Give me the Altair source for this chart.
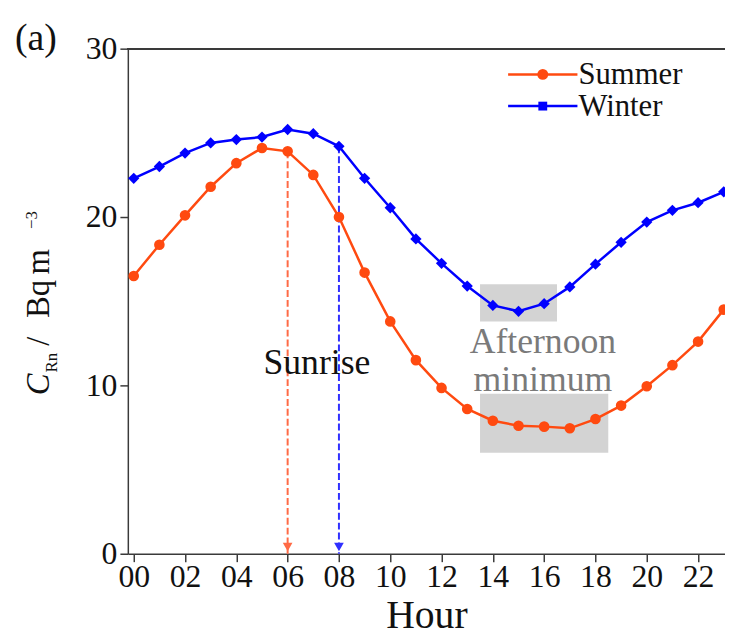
import altair as alt
import pandas as pd

hours = list(range(24))
summer = [16.5, 18.35, 20.1, 21.8, 23.2, 24.1, 23.9, 22.5, 20.0, 16.7, 13.8, 11.5,
          9.85, 8.6, 7.9, 7.6, 7.55, 7.45, 8.0, 8.8, 9.95, 11.2, 12.6, 14.5]
winter = [22.3, 23.0, 23.8, 24.4, 24.6, 24.75, 25.2, 24.95, 24.2, 22.3, 20.55, 18.7,
          17.25, 15.9, 14.75, 14.4, 14.85, 15.85, 17.2, 18.5, 19.7, 20.4, 20.85, 21.5]
tick_hours = [0, 2, 4, 6, 8, 10, 12, 14, 16, 18, 20, 22]
y_ticks = [0, 10, 20, 30]

# shaded "afternoon minimum" boxes
box_x = [13.5, 13.5]
box_x2 = [16.5, 18.5]
box_y = [13.8, 6.0]
box_y2 = [16.0, 9.5]

# sunrise markers
sunrise_hour = [6, 8]
sunrise_top = [23.9, 24.2]
sunrise_season = ["Summer", "Winter"]

# annotation texts (label, hour, value)
notes = [("Afternoon", 15.95, 12.6), ("minimum", 15.95, 10.3), ("Sunrise", 7.14, 11.35)]

FONT = "'Liberation Serif', 'DejaVu Serif', serif"
RED = "#ff4a10"
BLUE = "#0000ff"
AX = "#3a3a3a"
W, H = 603, 510

def X(field="hour"):
    return alt.X(f"{field}:Q",
                 scale=alt.Scale(domain=[-0.23, 23.05], nice=False, zero=False),
                 axis=alt.Axis(values=tick_hours,
                               labelExpr="datum.value < 10 ? '0' + datum.value : '' + datum.value",
                               title="Hour", grid=False, tickSize=8, tickWidth=1.5,
                               tickColor=AX, domainColor=AX, domainWidth=1.5,
                               labelFont=FONT, labelFontSize=32, labelColor="#111",
                               labelPadding=0, titleFont=FONT, titleFontSize=40,
                               titleFontWeight="normal", titleColor="#111",
                               titlePadding=3, labelFlush=False))

def Y(field="value"):
    return alt.Y(f"{field}:Q",
                 scale=alt.Scale(domain=[0, 30], nice=False),
                 axis=alt.Axis(values=y_ticks, title=None, grid=False, tickSize=8,
                               tickWidth=1.5, tickColor=AX, domainColor=AX,
                               domainWidth=1.5, labelFont=FONT, labelFontSize=32,
                               labelColor="#111", labelPadding=3))

s_df = pd.DataFrame({"hour": hours, "value": summer})
w_df = pd.DataFrame({"hour": hours, "value": winter})
box_df = pd.DataFrame({"x": box_x, "x2": box_x2, "y": box_y, "y2": box_y2})
sr_df = pd.DataFrame({"hour": sunrise_hour, "top": sunrise_top, "season": sunrise_season,
                      "zero": [0, 0], "tip": [0.4, 0.4]})

boxes = alt.Chart(box_df).mark_rect(color="#d3d3d3").encode(
    x=X("x"), x2="x2", y=Y("y"), y2="y2")

sr_color = alt.Color("season:N", scale=alt.Scale(domain=["Summer", "Winter"],
                                                 range=["#ff6a45", "#3030ff"]), legend=None)
sr_lines = alt.Chart(sr_df).mark_rule(strokeDash=[7, 3], strokeWidth=2).encode(
    x=X("hour"), y=Y("top"), y2="zero", color=sr_color)
sr_heads = alt.Chart(sr_df).mark_point(shape="triangle-down", filled=True, size=95,
                                        opacity=1).encode(
    x=X("hour"), y=Y("tip"), color=sr_color)

s_line = alt.Chart(s_df).mark_line(color=RED, strokeWidth=2.5).encode(x=X(), y=Y())
s_pts = alt.Chart(s_df).mark_point(shape="circle", filled=True, size=115, color=RED,
                                   opacity=1).encode(x=X(), y=Y())
w_line = alt.Chart(w_df).mark_line(color=BLUE, strokeWidth=2.5).encode(x=X(), y=Y())
w_pts = alt.Chart(w_df).mark_point(shape="diamond", filled=True, size=130, color=BLUE,
                                   opacity=1).encode(x=X(), y=Y())

one = pd.DataFrame({"k": [0]})
ann = []
for label, hx, vy in notes:
    col = "#111" if label == "Sunrise" else "#7a7a7a"
    ann.append(alt.Chart(pd.DataFrame({"hour": [hx], "value": [vy]})).mark_text(
        text=label, font=FONT, fontSize=36, color=col, baseline="middle",
        align="center").encode(x=X(), y=Y()))

top_border = alt.Chart(s_df).mark_rule(color=AX, strokeWidth=1.5).encode(
    x=alt.value(0), x2=alt.value(W), y=alt.value(0))

# legend
leg = []
for label, col, shape, ypos, sz in [("Summer", RED, "circle", 26, 120),
                                     ("Winter", BLUE, "square", 58, 80)]:
    leg.append(alt.Chart(one).mark_rule(color=col, strokeWidth=2.5).encode(
        x=alt.value(384), x2=alt.value(454), y=alt.value(ypos)))
    leg.append(alt.Chart(one).mark_point(shape=shape, filled=True, size=sz, color=col,
                                         opacity=1).encode(
        x=alt.value(419), y=alt.value(ypos)))
    leg.append(alt.Chart(one).mark_text(text=label, font=FONT, fontSize=31, color="#111",
                                        align="left", baseline="middle").encode(
        x=alt.value(455), y=alt.value(ypos + 1)))

# y-axis title pieces: C_Rn / Bq m^-3 (rotated)
yt = []
for txt, xv, yv, fs, style in [("C", -80, 350, 33, "italic"),
                               ("Rn", -72, 327, 17, "normal"),
                               ("/", -80, 300, 33, "normal"),
                               ("Bq", -80, 272, 33, "normal"),
                               ("m", -80, 228, 33, "normal"),
                               ("\u22123", -92, 182, 17, "normal")]:
    yt.append(alt.Chart(one).mark_text(text=txt, font=FONT, fontSize=fs, fontStyle=style,
                                       angle=270, align="left", baseline="alphabetic",
                                       color="#111").encode(
        x=alt.value(xv), y=alt.value(yv)))

panel = alt.Chart(one).mark_text(text="(a)", font=FONT, fontSize=38, color="#111",
                                 align="left", baseline="middle").encode(
    x=alt.value(-114), y=alt.value(-10))

chart = alt.layer(
    boxes, sr_lines, sr_heads, s_line, s_pts, w_line, w_pts, *ann, top_border,
    *leg, *yt, panel
).properties(
    width=W, height=H,
    autosize=alt.AutoSizeParams(type="none"),
    padding={"left": 121, "top": 38, "right": 0, "bottom": 80},
    background="white",
).configure(font=FONT).configure_view(stroke=None)

chart.save("out.html", embed_options={"renderer": "svg", "actions": False})
